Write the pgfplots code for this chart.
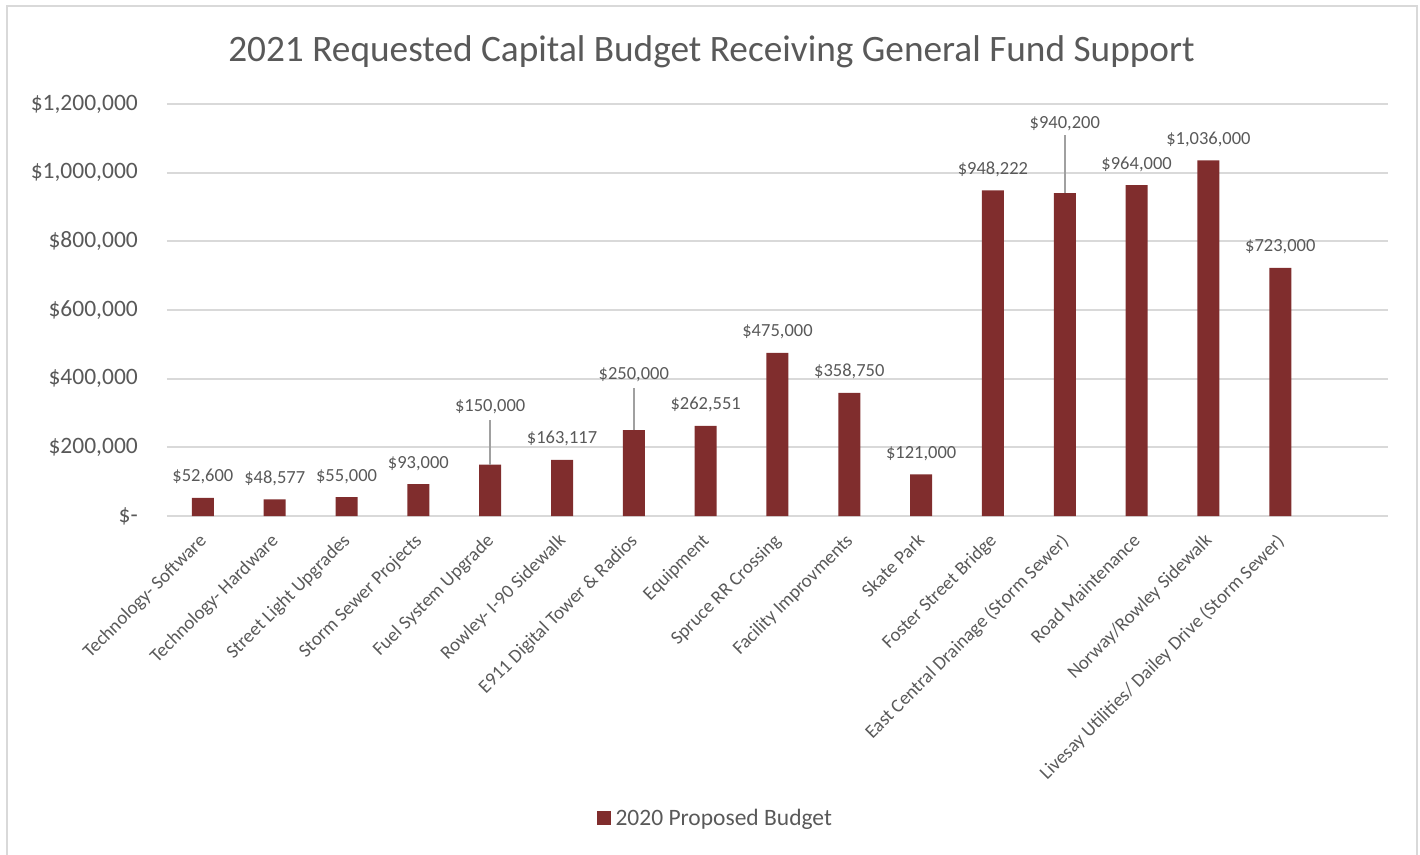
\documentclass[border=0pt]{standalone}
\usepackage{pgfplots}
\pgfplotsset{compat=1.18}
\usepackage{pgfplotstable}
\usepackage{fontspec}
\setmainfont{Carlito}

\definecolor{barred}{RGB}{128,45,45}
\definecolor{txt}{RGB}{89,89,89}
\definecolor{gridgray}{RGB}{217,217,217}
\definecolor{leadgray}{RGB}{160,160,160}

% budget per project; lift = label height above bar top (bp)
\pgfplotstableread{
x y lift
0 52600 16
1 48577 16
2 55000 16
3 93000 16
4 150000 53
5 163117 16
6 250000 50.5
7 262551 16
8 475000 16
9 358750 16
10 121000 16
11 948222 16
12 940200 65
13 964000 16
14 1036000 16
15 723000 16
}\budget

% leader lines for the lifted labels
\pgfplotstableread{
x y up
4 150000 129600
6 250000 122800
12 940200 169500
}\leaders

\begin{document}
\begin{tikzpicture}
\useasboundingbox (-167bp,-339bp) rectangle (1253bp,516bp);
\draw[gridgray, line width=1.8bp] (-160bp,-345bp) |- (1250bp,510bp) -- (1250bp,-345bp);
\begin{axis}[
  at={(0,0)}, anchor=south west,
  scale only axis,
  width=1221bp, height=412bp,
  xmin=-0.5, xmax=16.5,
  ymin=0, ymax=1200000,
  clip=false,
  separate axis lines,
  axis x line*=bottom,
  axis y line*=left,
  x axis line style={gridgray, line width=2.6bp, -},
  y axis line style={draw=none},
  major tick length=0pt,
  ymajorgrids,
  major grid style={gridgray, line width=1.8bp},
  scaled y ticks=false,
  ytick={0,200000,400000,600000,800000,1000000,1200000},
  yticklabels={{\$-\hspace{10bp}},{\$200,000},{\$400,000},{\$600,000},{\$800,000},{\$1,000,000},{\$1,200,000}},
  yticklabel style={font=\fontsize{23.5bp}{28bp}\selectfont, text=txt, inner sep=0pt, xshift=-29bp},
  xtick={0,...,15},
  xticklabels={Technology- Software, Technology- Hardware, Street Light Upgrades, Storm Sewer Projects, Fuel System Upgrade, Rowley- I-90 Sidewalk, E911 Digital Tower \& Radios, Equipment, Spruce RR Crossing, Facility Improvments, Skate Park, Foster Street Bridge, East Central Drainage (Storm Sewer), Road Maintenance, Norway/Rowley Sidewalk, Livesay Utilities/ Dailey Drive (Storm Sewer)},
  xticklabel style={font=\fontsize{19bp}{23bp}\selectfont, text=txt, rotate=45, anchor=north east, inner sep=0pt, xshift=-15bp, yshift=-8bp},
  legend style={draw=none, fill=none, at={(axis description cs:0.449,-0.733)}, anchor=center,
    font=\fontsize{23.5bp}{28bp}\selectfont, text=txt},
]
\addplot[ybar, bar width=22bp, fill=barred, draw=none,
  legend image code/.code={\fill[barred] (0bp,-7bp) rectangle (14bp,7bp);},
  point meta=explicit,
  visualization depends on={\thisrow{lift} \as \lift},
  nodes near coords={\$\pgfmathprintnumber[fixed, precision=0, 1000 sep={,}, assume math mode=true]{\pgfplotspointmeta}},
  every node near coord/.append style={font=\fontsize{18.5bp}{22bp}\selectfont, text=txt, anchor=base, yshift=\lift*1bp},
] table[x=x, y=y, meta=y] {\budget};
\addlegendentry{\hspace{3bp}2020 Proposed Budget}
\addplot[draw=none, mark=none, forget plot,
  error bars/.cd, y dir=plus, y explicit, error mark=none,
  error bar style={draw=leadgray, line width=1.6bp}
] table[x=x, y=y, y error=up] {\leaders};
\end{axis}
\node[font=\fontsize{37.3bp}{44bp}\selectfont, text=txt, anchor=base] at (544.5bp,454bp) {2021 Requested Capital Budget Receiving General Fund Support};
\end{tikzpicture}
\end{document}
